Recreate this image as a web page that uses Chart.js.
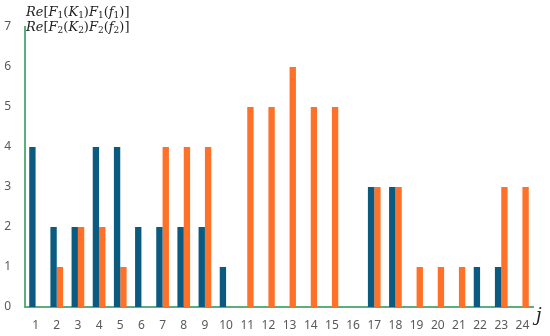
<!DOCTYPE html>
<html>
<head>
<meta charset="utf-8">
<script src="https://cdn.jsdelivr.net/npm/chart.js@4.4.1/dist/chart.umd.min.js"></script>
<style>
  html, body { margin: 0; padding: 0; background: #fff; }
  #wrap { position: relative; width: 550px; height: 336px; }
  .lab { position: absolute; font-family: 'DejaVu Serif', 'Liberation Serif', serif; font-size: 13px; color: #222; white-space: nowrap; line-height: 1; }
  .lab i { font-style: italic; }
  .lab sub { font-size: 9px; vertical-align: -2px; }
  #jlab { position: absolute; left: 536px; top: 304px; font: italic 18px 'DejaVu Serif', serif; color: #222; }
</style>
</head>
<body>
<div id="wrap">
  <canvas id="canvas" width="550" height="336"></canvas>
  <div class="lab" style="left:26px;top:5px"><i>Re</i>[<i>F</i><sub>1</sub>(<i>K</i><sub>1</sub>)<i>F</i><sub>1</sub>(<i>f</i><sub>1</sub>)]</div>
  <div class="lab" style="left:26px;top:20px"><i>Re</i>[<i>F</i><sub>2</sub>(<i>K</i><sub>2</sub>)<i>F</i><sub>2</sub>(<i>f</i><sub>2</sub>)]</div>
  <div id="jlab">j</div>
</div>
<script>
  // data
  var labels = ['1','2','3','4','5','6','7','8','9','10','11','12','13','14','15','16','17','18','19','20','21','22','23','24'];
  var re1 = [4,2,2,4,4,2,2,2,2,1,0,0,0,0,0,0,3,3,0,0,0,1,1,0];
  var re2 = [0,1,2,2,1,0,4,4,4,0,5,5,6,5,5,0,3,3,1,1,1,0,3,3];

  const axisGreen = '#5bae7d';
  const tickFont = {family: "'Noto Sans', sans-serif", size: 12};

  const ctx = document.getElementById('canvas').getContext('2d');
  var chart = new Chart(ctx, {
    type: 'bar',
    data: {
      labels: labels,
      datasets: [
        {label: 'Re[F1(K1)F1(f1)]', data: re1, backgroundColor: '#0b5b80', categoryPercentage: 0.6, barPercentage: 1},
        {label: 'Re[F2(K2)F2(f2)]', data: re2, backgroundColor: '#ff7128', categoryPercentage: 0.6, barPercentage: 1}
      ]
    },
    options: {
      responsive: false,
      animation: false,
      layout: {padding: {top: 27, right: 17, bottom: 0, left: 0}},
      plugins: {legend: {display: false}, tooltip: {enabled: false}},
      scales: {
        x: {
          grid: {display: false, drawTicks: false},
          border: {color: axisGreen, width: 2},
          ticks: {color: '#595959', font: tickFont, padding: 11, maxRotation: 0, autoSkip: false},
          afterFit: function(s) { s.height = 29; }
        },
        y: {
          min: 0, max: 7,
          grid: {display: false, drawTicks: false},
          border: {color: axisGreen, width: 2},
          ticks: {stepSize: 1, color: '#595959', font: tickFont, padding: 14},
          afterFit: function(s) { s.width = 25; }
        }
      }
    }
  });
</script>
</body>
</html>
